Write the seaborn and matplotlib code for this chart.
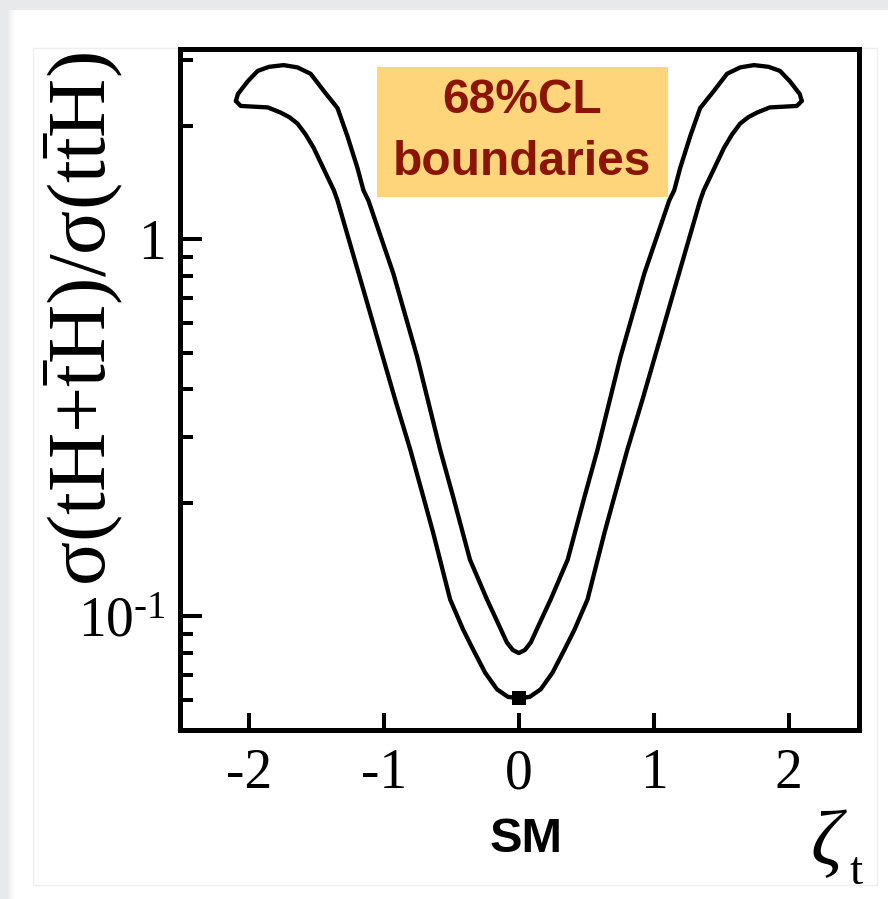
import matplotlib
matplotlib.use("Agg")
import matplotlib.pyplot as plt
import numpy as np
import pandas as pd
import seaborn as sns
from matplotlib.patches import Rectangle
from matplotlib.ticker import FixedLocator, NullFormatter

# ---- data (68% CL contour boundaries) ----
upper_x = [-2.096, -2.081, -2.040, -2.007, -1.934, -1.85, -1.742, -1.64, -1.542, -1.446,
           -1.343, -1.27, -1.196, -1.151, -1.114, -0.930, -0.753, -0.583, -0.487, -0.362,
           -0.236, -0.160, -0.089, -0.045, 0.0,
           0.045, 0.089, 0.160, 0.236, 0.362, 0.487, 0.583, 0.753, 0.930, 1.114, 1.151,
           1.196, 1.27, 1.343, 1.446, 1.542, 1.64, 1.742, 1.85, 1.934, 2.007, 2.040,
           2.081, 2.096]
upper_y = [2.33, 2.43, 2.54, 2.63, 2.80, 2.87, 2.90, 2.86, 2.75, 2.48,
           2.23, 1.88, 1.55, 1.35, 1.268, 0.813, 0.488, 0.277, 0.208, 0.1415,
           0.111, 0.097, 0.0854, 0.0815, 0.080,
           0.0815, 0.0854, 0.097, 0.111, 0.1415, 0.208, 0.277, 0.488, 0.813, 1.268, 1.35,
           1.55, 1.88, 2.23, 2.48, 2.75, 2.86, 2.90, 2.87, 2.80, 2.63, 2.54,
           2.43, 2.33]

lower_x = [-2.096, -2.06, -1.963, -1.86, -1.764, -1.70, -1.64, -1.58, -1.52, -1.45, -1.37,
           -1.343, -1.144, -0.915, -0.804, -0.708, -0.635, -0.509, -0.413, -0.339, -0.25,
           -0.162, -0.08, 0.0,
           0.08, 0.162, 0.25, 0.339, 0.413, 0.509, 0.635, 0.708, 0.804, 0.915, 1.144,
           1.343, 1.37, 1.45, 1.52, 1.58, 1.64, 1.70, 1.764, 1.86, 1.963, 2.06, 2.096]
lower_y = [2.33, 2.26, 2.25, 2.24, 2.17, 2.11, 2.03, 1.90, 1.75, 1.55, 1.35,
           1.268, 0.72, 0.375, 0.277, 0.208, 0.167, 0.111, 0.0924, 0.0818, 0.071,
           0.0641, 0.0612, 0.0607,
           0.0612, 0.0641, 0.071, 0.0818, 0.0924, 0.111, 0.167, 0.208, 0.277, 0.375, 0.72,
           1.268, 1.35, 1.55, 1.75, 1.90, 2.03, 2.11, 2.17, 2.24, 2.25, 2.26, 2.33]

sm_x = [0.0]
sm_y = [0.0607]

x_ticks = [-2, -1, 0, 1, 2]
x_tick_labels = ["-2", "-1", "0", "1", "2"]
y_ticks = [0.1, 1.0]
y_tick_labels = ["$\\mathrm{10^{\u20101}}$", "1"]
y_minor = [0.06, 0.07, 0.08, 0.09, 0.2, 0.3, 0.4, 0.5, 0.6, 0.7, 0.8, 0.9, 2.0, 3.0]

box_lines = ["68%CL", "boundaries"]
y_label = r"$\mathrm{\sigma(tH{+}\bar{t}H)/\sigma(t\bar{t}H)}$"
x_label_main = r"$\zeta$"
x_label_sub = "t"

# ---- style ----
sns.set_style("ticks")
plt.rcParams["font.family"] = ["Liberation Serif", "DejaVu Serif"]
plt.rcParams["mathtext.fontset"] = "custom"
plt.rcParams["mathtext.rm"] = "Liberation Serif"
plt.rcParams["mathtext.it"] = "Liberation Serif:italic"
plt.rcParams["mathtext.bf"] = "Liberation Serif:bold"
plt.rcParams["axes.unicode_minus"] = False
plt.rcParams["text.color"] = "black"
plt.rcParams["axes.labelcolor"] = "black"
plt.rcParams["xtick.color"] = "black"
plt.rcParams["ytick.color"] = "black"
plt.rcParams["xtick.labelcolor"] = "black"
plt.rcParams["ytick.labelcolor"] = "black"

W, H = 888, 899
fig = plt.figure(figsize=(W / 100, H / 100), dpi=100)
fig.patch.set_facecolor("white")

# page-like background decoration
fig.add_artist(Rectangle((0, 1 - 10 / H), 1, 10 / H, transform=fig.transFigure,
                         facecolor="#e8e9eb", edgecolor="none", zorder=0))
fig.add_artist(Rectangle((0, 0), 8 / W, 1, transform=fig.transFigure,
                         facecolor="#e8e9eb", edgecolor="none", zorder=0))
for i, c in enumerate(["#eeeeef", "#f4f4f5", "#f9f9f9"]):
    fig.add_artist(Rectangle(((8 + 2 * i) / W, 0), 2 / W, 1 - 10 / H, transform=fig.transFigure,
                             facecolor=c, edgecolor="none", zorder=0))
fig.add_artist(Rectangle((33 / W, 14 / H), (877 - 33) / W, (868 - 31) / H,
                         transform=fig.transFigure, facecolor="none",
                         edgecolor="#efefef", lw=1.0, zorder=0))

ax = fig.add_axes([180 / W, (H - 730) / H, 679 / W, 681 / H])

up = pd.DataFrame({"x": upper_x, "y": upper_y})
lo = pd.DataFrame({"x": lower_x, "y": lower_y})
for d in (up, lo):
    sns.lineplot(data=d, x="x", y="y", sort=False, estimator=None, color="black",
                 lw=3.1, ax=ax, zorder=3, solid_joinstyle="round", solid_capstyle="round")
sns.scatterplot(x=sm_x, y=sm_y, marker="s", s=95, color="black", linewidth=0,
                ax=ax, zorder=4)

ax.set_yscale("log")
ax.set_xlim(-2.51, 2.52)
ax.set_ylim(0.05, 3.2)
ax.set_xlabel("")
ax.set_ylabel("")

ax.set_xticks(x_ticks, labels=x_tick_labels)
ax.set_yticks(y_ticks, labels=y_tick_labels)
ax.yaxis.set_minor_locator(FixedLocator(y_minor))
ax.yaxis.set_minor_formatter(NullFormatter())
ax.xaxis.set_minor_locator(FixedLocator([]))

ax.tick_params(axis="x", which="major", direction="in", length=12, width=2.9,
               top=False, labelsize=40, pad=13, colors="black")
ax.tick_params(axis="y", which="major", direction="in", length=16, width=2.9,
               right=False, labelsize=40, pad=10, colors="black")
ax.tick_params(axis="y", which="minor", direction="in", length=9.4, width=2.9,
               right=False)
for s in ax.spines.values():
    s.set_linewidth(3.6)
    s.set_color("black")
    s.set_visible(True)

# annotation box
ax.add_patch(Rectangle((0.290, 0.783), 0.429, 0.191, transform=ax.transAxes,
                       facecolor="#fed57b", edgecolor="none", zorder=2))
ax.text(0.504, 0.925, box_lines[0], transform=ax.transAxes, ha="center", va="center",
        fontsize=34.5, fontweight="bold", family=["Liberation Sans"], color="#8b1505", zorder=5)
ax.text(0.504, 0.834, box_lines[1], transform=ax.transAxes, ha="center", va="center",
        fontsize=34.5, fontweight="bold", family=["Liberation Sans"], color="#8b1505", zorder=5)

# axis labels
fig.text(84 / W, 1 - 319 / H, y_label, rotation=90, ha="center", va="center",
         fontsize=59, color="black")
fig.text(829 / W, 1 - 845 / H, x_label_main, ha="center", va="center", fontsize=56,
         color="black")
fig.text(856 / W, 1 - 873 / H, x_label_sub, ha="center", va="center", fontsize=34,
         color="black")
fig.text(526 / W, 1 - 840 / H, "SM", ha="center", va="center", fontsize=35,
         fontweight="bold", family=["Liberation Sans"], color="black")

fig.savefig("out.png", dpi=100, facecolor=fig.get_facecolor())
